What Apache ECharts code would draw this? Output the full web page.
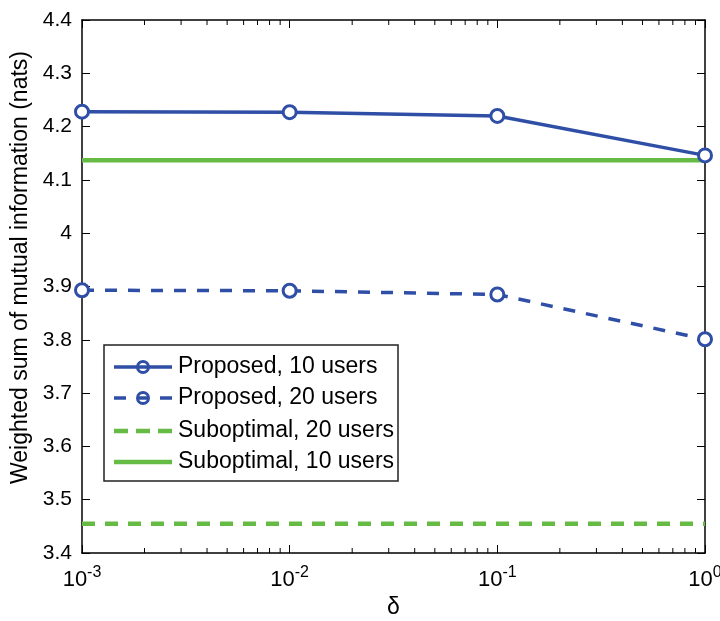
<!DOCTYPE html>
<html><head><meta charset="utf-8">
<script src="https://cdn.jsdelivr.net/npm/echarts@6/dist/echarts.min.js"></script>
<style>html,body{margin:0;padding:0;background:#fff}#c{width:720px;height:621px}</style>
</head><body><div id="c"></div>
<script>
const deltas = [0.001, 0.01, 0.1, 1];
const proposed10 = [4.228, 4.227, 4.220, 4.146];
const proposed20 = [3.893, 3.892, 3.885, 3.801];
const subopt20 = [3.455, 3.455, 3.455, 3.455];
const subopt10 = [4.137, 4.137, 4.137, 4.137];
const minorTickValues = [0.002,0.003,0.004,0.005,0.006,0.007,0.008,0.009,
  0.02,0.03,0.04,0.05,0.06,0.07,0.08,0.09,0.2,0.3,0.4,0.5,0.6,0.7,0.8,0.9];
const legendNames = ['Proposed, 10 users','Proposed, 20 users','Suboptimal, 20 users','Suboptimal, 10 users'];
const yMin = 3.4, yMax = 4.4, yStep = 0.1;

const BLUE = '#2f4ea6', GREEN = '#66bb44';
const FONT = 'Liberation Sans';
const pair = arr => deltas.map((d,i)=>[d, arr[i]]);

// legend layout (drawn as graphic); segments are [start,end] offsets along the 58px sample line
const LG = {x:104, y:345, w:294, h:136, lineX1:114, lineX2:172, textX:178, rows:[367, 398, 431, 462]};
const legendStyles = [
  {color:BLUE, width:3.5, segs:[[0,58]], marker:true},
  {color:BLUE, width:3.5, segs:[[0,12],[24,34],[46,58]], marker:true},
  {color:GREEN, width:4.5, segs:[[0,14],[22,36],[44,58]], marker:false},
  {color:GREEN, width:4.5, segs:[[0,58]], marker:false}
];
const legendGraphics = [{type:'rect', shape:{x:LG.x, y:LG.y, width:LG.w, height:LG.h},
  style:{fill:'#fff', stroke:'#222', lineWidth:1.5}, z:100}];
legendNames.forEach((name, i) => {
  const s = legendStyles[i], cy = LG.rows[i], cx = (LG.lineX1 + LG.lineX2) / 2;
  s.segs.forEach(([a, b]) => legendGraphics.push({type:'line',
    shape:{x1:LG.lineX1 + a, y1:cy, x2:LG.lineX1 + b, y2:cy},
    style:{stroke:s.color, lineWidth:s.width}, z:101}));
  if (s.marker) {
    legendGraphics.push({type:'circle', shape:{cx:cx, cy:cy, r:5.5},
      style:{fill:'none', stroke:s.color, lineWidth:3}, z:102});
  }
  legendGraphics.push({type:'text', x:LG.textX, y:cy,
    style:{text:name, fontFamily:FONT, fontSize:23, fill:'#000', verticalAlign:'middle', align:'left'}, z:102});
});

const chart = echarts.init(document.getElementById('c'));
const axisCommon = {
  axisLine:{show:true, lineStyle:{color:'#000', width:1.5}},
  axisTick:{show:true, inside:true, length:8, lineStyle:{color:'#000', width:1}},
  splitLine:{show:false}
};
chart.setOption({
  animation:false,
  backgroundColor:'#fff',
  grid:{left:82, right:15, top:20, bottom:68, outerBoundsMode:'none', containLabel:false},
  xAxis:[
    Object.assign({type:'log', logBase:10, min:0.001, max:1, position:'bottom',
      name:'δ', nameLocation:'middle', nameGap:43,
      nameTextStyle:{fontFamily:FONT, fontSize:23, color:'#000'},
      axisLabel:{margin:12, fontFamily:FONT, color:'#000',
        formatter:v=>'{b|10}{s|'+Math.round(Math.log10(v))+'}',
        rich:{b:{fontSize:22, fontFamily:FONT, color:'#000'},
              s:{fontSize:16, fontFamily:FONT, color:'#000', padding:[0,0,14,0]}}}}, axisCommon),
    Object.assign({type:'log', logBase:10, min:0.001, max:1, position:'top',
      axisLabel:{show:false}}, axisCommon)
  ],
  yAxis:[
    Object.assign({type:'value', min:yMin, max:yMax, interval:yStep, position:'left',
      name:'Weighted sum of mutual information (nats)', nameLocation:'middle', nameGap:48,
      nameTextStyle:{fontFamily:FONT, fontSize:23, color:'#000', padding:[0,0,0,38]},
      axisLabel:{margin:10, fontFamily:FONT, fontSize:21, color:'#000'}}, axisCommon),
    Object.assign({type:'value', min:yMin, max:yMax, interval:yStep, position:'right',
      axisLabel:{show:false}}, axisCommon)
  ],
  graphic: legendGraphics,
  series:[
    {name:legendNames[2], type:'line', data:pair(subopt20), showSymbol:false, symbol:'none',
      lineStyle:{color:GREEN, width:4.5, type:[13,10]}, itemStyle:{color:GREEN}, z:2},
    {name:legendNames[3], type:'line', data:pair(subopt10), showSymbol:false, symbol:'none',
      lineStyle:{color:GREEN, width:4.5, type:'solid'}, itemStyle:{color:GREEN}, z:2},
    {name:legendNames[0], type:'line', data:pair(proposed10), symbol:'circle', symbolSize:13,
      lineStyle:{color:BLUE, width:3.5}, itemStyle:{color:'#fff', borderColor:BLUE, borderWidth:3}, z:3},
    {name:legendNames[1], type:'line', data:pair(proposed20), symbol:'circle', symbolSize:13,
      lineStyle:{color:BLUE, width:3.5, type:[12,11]}, itemStyle:{color:'#fff', borderColor:BLUE, borderWidth:3}, z:3},
    {type:'custom', name:'minorTicks', xAxisIndex:0, yAxisIndex:0, silent:true, clip:false,
      data:minorTickValues.map(v=>[v]),
      renderItem:(params, api)=>{
        const x = api.value(0);
        const b = api.coord([x, yMin]);
        const t = api.coord([x, yMax]);
        return {type:'group', children:[
          {type:'line', shape:{x1:b[0], y1:b[1], x2:b[0], y2:b[1]-5}, style:{stroke:'#000', lineWidth:1}},
          {type:'line', shape:{x1:t[0], y1:t[1], x2:t[0], y2:t[1]+5}, style:{stroke:'#000', lineWidth:1}}
        ]};
      }}
  ]
});
</script></body></html>
